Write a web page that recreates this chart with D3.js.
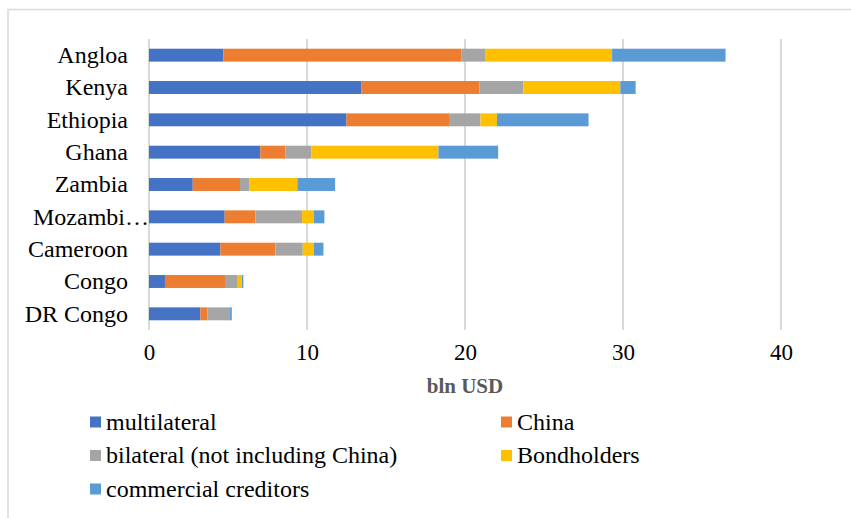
<!DOCTYPE html>
<html>
<head>
<meta charset="utf-8">
<script src="https://cdn.jsdelivr.net/npm/d3@7"></script>
<style>
  body { margin: 0; background: #fff; }
  svg text { font-family: "Liberation Serif", "Times New Roman", serif !important; }
</style>
</head>
<body>
<div id="chart"></div>
<script>
// dados (bln USD)
var countries = ["Angloa", "Kenya", "Ethiopia", "Ghana", "Zambia", "Mozambique", "Cameroon", "Congo", "DR Congo"];
var seriesNames = ["multilateral", "China", "bilateral (not including China)", "Bondholders", "commercial creditors"];
var multilateral = [4.7, 13.45, 12.5, 7.05, 2.77, 4.79, 4.52, 1.01, 3.25];
var china = [15.09, 7.47, 6.54, 1.58, 2.99, 1.94, 3.48, 3.8, 0.44];
var bilateral = [1.52, 2.78, 1.94, 1.65, 0.59, 2.96, 1.73, 0.76, 1.44];
var bondholders = [8.0, 6.13, 1.04, 8.04, 3.04, 0.74, 0.7, 0.31, 0.0];
var commercial = [7.18, 0.97, 5.8, 3.78, 2.39, 0.67, 0.61, 0.09, 0.11];
var xTicks = [0, 10, 20, 30, 40];
var colors = ["#4472C4", "#ED7D31", "#A5A5A5", "#FFC000", "#5B9BD5"];

var W = 851, H = 518;
var margin = { top: 39, left: 149, right: 70, bottom: 188 };

var svg = d3.select("#chart").append("svg").attr("width", W).attr("height", H);

// moldura do gráfico
svg.append("rect")
  .attr("x", 8).attr("y", 9.5)
  .attr("width", W + 20).attr("height", H + 20)
  .attr("fill", "none").attr("stroke", "#d9d9d9").attr("stroke-width", 1.5);

var x = d3.scaleLinear().domain([0, 40]).range([margin.left, 781]);
var y = d3.scaleBand().domain(countries).range([margin.top, H - margin.bottom]).paddingInner(0.6).paddingOuter(0.3);

// grade vertical
svg.append("g").selectAll("line")
  .data(xTicks)
  .join("line")
  .attr("x1", d => x(d)).attr("x2", d => x(d))
  .attr("y1", margin.top).attr("y2", H - margin.bottom)
  .attr("stroke", "#d9d9d9").attr("stroke-width", 2);

// monta as séries empilhadas
var rows = countries.map(function (c, i) {
  return {
    country: c,
    "multilateral": multilateral[i],
    "China": china[i],
    "bilateral (not including China)": bilateral[i],
    "Bondholders": bondholders[i],
    "commercial creditors": commercial[i]
  };
});
var stacked = d3.stack().keys(seriesNames)(rows);

svg.append("g").selectAll("g")
  .data(stacked)
  .join("g")
  .attr("fill", (d, i) => colors[i])
  .selectAll("rect")
  .data(d => d)
  .join("rect")
  .attr("x", d => x(d[0]))
  .attr("y", d => y(d.data.country))
  .attr("width", d => Math.max(0, x(d[1]) - x(d[0])))
  .attr("height", y.bandwidth());

// rótulos dos países
svg.append("g").selectAll("text")
  .data(countries)
  .join("text")
  .attr("x", d => d.length > 9 ? 33 : 128)
  .attr("y", d => y(d) + y.bandwidth() / 2)
  .attr("dy", "0.33em")
  .attr("text-anchor", d => d.length > 9 ? "start" : "end")
  .attr("font-size", 24)
  .attr("fill", "#000")
  .text(d => d.length > 9 ? d.slice(0, 7) + "\u2026" : d);

// eixo x
var xAxis = svg.append("g")
  .attr("transform", "translate(0," + (H - margin.bottom) + ")")
  .call(d3.axisBottom(x).tickValues(xTicks).tickSize(0).tickPadding(14));
xAxis.select(".domain").remove();
xAxis.selectAll("text")
  .attr("font-size", 23).attr("fill", "#000");

svg.append("text")
  .attr("x", x(20)).attr("y", 393)
  .attr("text-anchor", "middle")
  .attr("font-size", 21).attr("font-weight", "bold").attr("fill", "#595959")
  .text("bln USD");

// legenda
var legend = svg.append("g").selectAll("g")
  .data(seriesNames)
  .join("g")
  .attr("transform", (d, i) => "translate(" + (i % 2 === 0 ? 90 : 501) + "," + (422 + Math.floor(i / 2) * 33.5) + ")");

legend.append("rect")
  .attr("x", 0).attr("y", -5.5)
  .attr("width", 11).attr("height", 11)
  .attr("fill", (d, i) => colors[i]);

legend.append("text")
  .attr("x", 16).attr("y", 0).attr("dy", "0.33em")
  .attr("font-size", 24).attr("fill", "#000")
  .text(d => d);
</script>
</body>
</html>
